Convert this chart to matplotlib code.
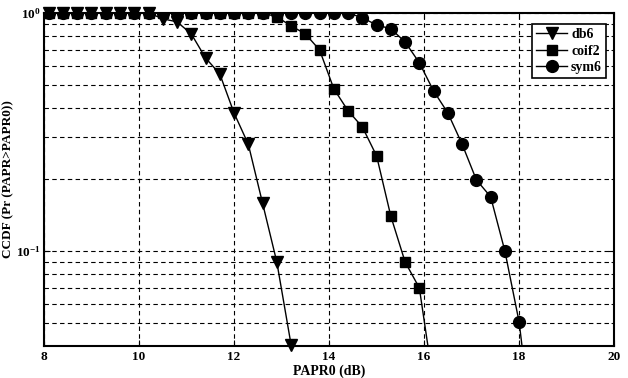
import matplotlib
matplotlib.use("Agg")
from matplotlib import pyplot as plt
from matplotlib.ticker import FixedLocator, FixedFormatter, NullFormatter

plt.rcParams['font.family'] = ['Liberation Serif', 'DejaVu Serif']
plt.rcParams['font.weight'] = 'bold'
plt.rcParams['mathtext.fontset'] = 'custom'
plt.rcParams['mathtext.rm'] = 'Liberation Serif:bold'
plt.rcParams['mathtext.it'] = 'Liberation Serif:bold'
plt.rcParams['mathtext.bf'] = 'Liberation Serif:bold'

# PAPR0 (dB) sample points for each curve
x_db6 = [8.1, 8.4, 8.7, 9.0, 9.3, 9.6, 9.9, 10.2, 10.5, 10.8, 11.1, 11.4,
         11.7, 12.0, 12.3, 12.6, 12.9, 13.2]
y_db6 = [1, 1, 1, 1, 1, 1, 1, 1, 0.944, 0.917, 0.816, 0.647,
         0.554, 0.38, 0.281, 0.159, 0.090, 0.0405]

x_coif2 = [8.1, 8.4, 8.7, 9.0, 9.3, 9.6, 9.9, 10.2, 10.5, 10.8, 11.1, 11.4,
           11.7, 12.0, 12.3, 12.6, 12.9, 13.2, 13.5, 13.8, 14.1, 14.4,
           14.7, 15.0, 15.3, 15.6, 15.9, 16.2]
y_coif2 = [1, 1, 1, 1, 1, 1, 1, 1, 1, 1, 1, 1,
           1, 1, 1, 1, 0.962, 0.882, 0.816, 0.699, 0.48, 0.388,
           0.332, 0.251, 0.140, 0.090, 0.070, 0.0275]

x_sym6 = [8.1, 8.4, 8.7, 9.0, 9.3, 9.6, 9.9, 10.2, 10.5, 10.8, 11.1, 11.4,
          11.7, 12.0, 12.3, 12.6, 12.9, 13.2, 13.5, 13.8, 14.1, 14.4,
          14.7, 15.0, 15.3, 15.6, 15.9, 16.2, 16.5, 16.8, 17.1, 17.4,
          17.7, 18.0, 18.3]
y_sym6 = [1, 1, 1, 1, 1, 1, 1, 1, 1, 1, 1, 1,
          1, 1, 1, 1, 1, 1, 1, 1, 1, 1,
          0.953, 0.89, 0.857, 0.755, 0.617, 0.47, 0.38, 0.281, 0.199, 0.169,
          0.1, 0.0503, 0.016]

xticks = [8, 10, 12, 14, 16, 18, 20]
yminor = [0.05, 0.06, 0.07, 0.08, 0.09, 0.2, 0.3, 0.4, 0.5, 0.6, 0.7, 0.8, 0.9]

fig = plt.figure(figsize=(6.28, 3.78), dpi=100)
ax = fig.add_axes([0.070, 0.085, 0.908, 0.881])

# matlab draws later series on top, so sym6 covers the others along 10^0
ax.plot(x_db6, y_db6, color='k', lw=1, marker='v', ms=8, label='db6', zorder=3, clip_on=False)
ax.plot(x_coif2, y_coif2, color='k', lw=1, marker='s', ms=7, label='coif2', zorder=4)
ax.plot(x_sym6, y_sym6, color='k', lw=1, marker='o', ms=8.5, label='sym6', zorder=5)

ax.set_yscale('log')
ax.set_xlim(8, 20)
ax.set_ylim(0.04, 1)

ax.xaxis.set_major_locator(FixedLocator(xticks))
ax.yaxis.set_major_locator(FixedLocator([0.1, 1]))
ax.yaxis.set_major_formatter(FixedFormatter([r'$10^{-1}$', r'$10^{0}$']))
ax.yaxis.set_minor_locator(FixedLocator(yminor))
ax.yaxis.set_minor_formatter(NullFormatter())

ax.grid(True, which='major', axis='x', color='k', ls=(0, (4, 3)), lw=0.8)
ax.grid(True, which='both', axis='y', color='k', ls=(0, (4, 3)), lw=0.8)

ax.tick_params(which='both', direction='in', top=True, right=True, labelsize=9.5)
ax.tick_params(which='major', length=4)
ax.tick_params(which='minor', length=2)
ax.tick_params(axis='y', pad=2.5)
for s in ax.spines.values():
    s.set_linewidth(1.5)

ax.set_xlabel('PAPR0 (dB)', fontsize=10, fontweight='bold', labelpad=1)
ax.set_ylabel('CCDF (Pr (PAPR>PAPR0))', fontsize=9.5, fontweight='bold')
ax.yaxis.set_label_coords(-0.052, 0.5)

leg = ax.legend(loc='upper right', fontsize=10, fancybox=False,
                framealpha=1, edgecolor='k', handlelength=2.2, borderpad=0.3,
                labelspacing=0.25, handletextpad=0.3, bbox_to_anchor=(0.998, 0.987))
leg.get_frame().set_linewidth(1.2)

fig.savefig('out.png', dpi=100)
